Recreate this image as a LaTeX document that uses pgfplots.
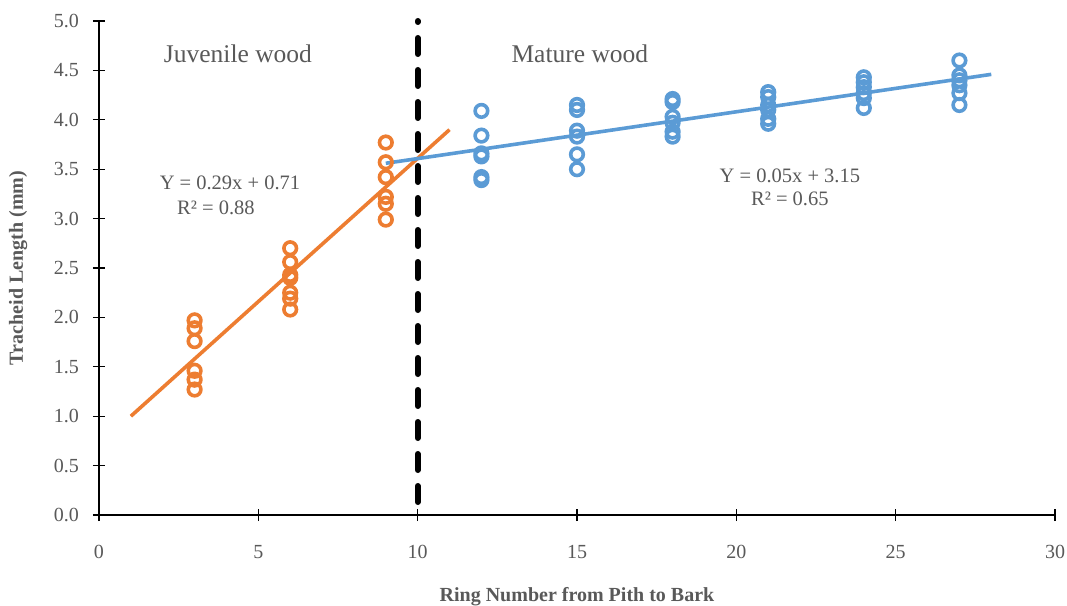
\documentclass[border=0pt]{standalone}
\usepackage{pgfplots}
\pgfplotsset{compat=1.18}
\usepackage{fontspec}
\setmainfont{Liberation Serif}
\definecolor{xorange}{HTML}{ED7D31}
\definecolor{xblue}{HTML}{5B9BD5}
\definecolor{xgray}{HTML}{595959}
\begin{document}
\begin{tikzpicture}
\begin{axis}[
  scale only axis, width=956pt, height=494pt,
  xmin=0, xmax=30, ymin=0, ymax=5,
  axis lines*=left,
  axis line style={black, line width=1.3pt},
  xtick={0,5,...,30}, ytick={0,0.5,...,5},
  tick style={black, line width=1.3pt},
  major tick length=12pt,
  xtick align=center, ytick align=center,
  /pgf/number format/assume math mode=true,
  yticklabel={\pgfmathprintnumber[fixed,fixed zerofill,precision=1]{\tick}},
  xticklabel={\pgfmathprintnumber{\tick}},
  ticklabel style={font=\fontsize{20}{22}\selectfont, text=xgray},
  xticklabel style={anchor=center, yshift=-31pt},
  yticklabel style={anchor=east, inner sep=0pt, xshift=-14pt},
  xlabel={Ring Number from Pith to Bark},
  ylabel={Tracheid Length (mm)},
  label style={font=\bfseries\fontsize{20}{22}\selectfont, text=xgray},
  xlabel style={at={(axis description cs:0.5,-0.166)}, anchor=center},
  ylabel style={at={(axis description cs:-0.0847,0.5)}, anchor=center},
  clip=false,
]
% dashed divider
\addplot[black, line width=6pt, line cap=round, dash pattern=on 16pt off 16pt, dash phase=15pt] coordinates {(10,5) (10,0)};
% juvenile wood
\addplot[only marks, mark=o, mark size=6.3pt, mark options={draw=xorange, line width=3.6pt}] coordinates {
 (3,1.97) (3,1.89) (3,1.76) (3,1.46) (3,1.37) (3,1.27)
 (6,2.70) (6,2.56) (6,2.43) (6,2.40) (6,2.25) (6,2.19) (6,2.08)
 (9,3.77) (9,3.57) (9,3.42) (9,3.22) (9,3.15) (9,2.99)
};
\addplot[xorange, line width=3.6pt] coordinates {(1,1.00) (11,3.90)};
% mature wood
\addplot[only marks, mark=o, mark size=6.3pt, mark options={draw=xblue, line width=3.6pt}] coordinates {
 (12,4.09) (12,3.84) (12,3.66) (12,3.63) (12,3.42) (12,3.39)
 (15,4.15) (15,4.10) (15,3.89) (15,3.83) (15,3.65) (15,3.50)
 (18,4.21) (18,4.18) (18,4.03) (18,3.97) (18,3.88) (18,3.83)
 (21,4.28) (21,4.23) (21,4.15) (21,4.10) (21,4.01) (21,3.96)
 (24,4.43) (24,4.38) (24,4.33) (24,4.27) (24,4.22) (24,4.12)
 (27,4.60) (27,4.45) (27,4.40) (27,4.35) (27,4.27) (27,4.15)
};
\addplot[xblue, line width=3.6pt] coordinates {(9,3.56) (28,4.46)};
% annotations
\node[text=xgray, font=\fontsize{25.5}{27}\selectfont] at (axis cs:4.36,4.67) {Juvenile wood};
\node[text=xgray, font=\fontsize{25.5}{27}\selectfont] at (axis cs:15.09,4.67) {Mature wood};
\node[text=xgray, font=\fontsize{20.5}{22}\selectfont] at (axis cs:4.11,3.36) {Y = 0.29x + 0.71};
\node[text=xgray, font=\fontsize{20.5}{22}\selectfont] at (axis cs:3.67,3.11) {R² = 0.88};
\node[text=xgray, font=\fontsize{20.5}{22}\selectfont] at (axis cs:21.68,3.43) {Y = 0.05x + 3.15};
\node[text=xgray, font=\fontsize{20.5}{22}\selectfont] at (axis cs:21.68,3.20) {R² = 0.65};
\end{axis}
\pgfresetboundingbox
\path[use as bounding box] (-99pt,-90pt) rectangle (968pt,515pt);
\end{tikzpicture}
\end{document}
